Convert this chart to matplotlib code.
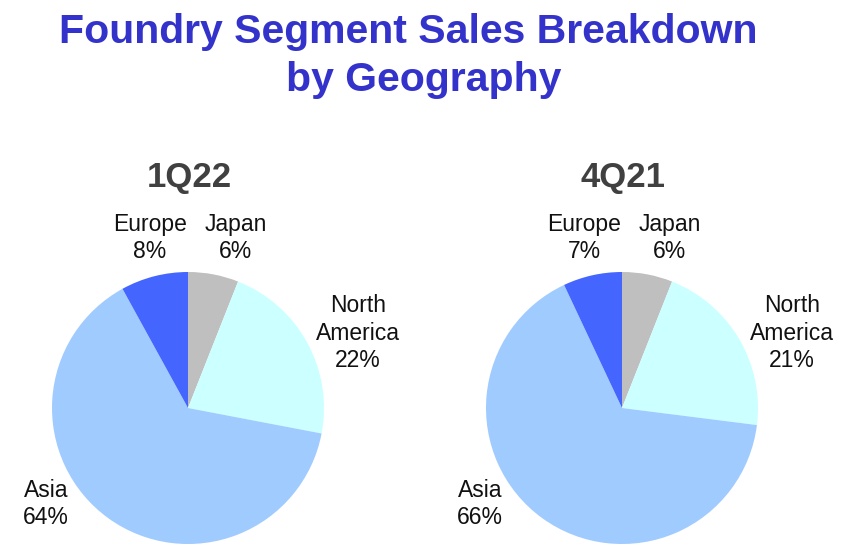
import matplotlib.pyplot as plt

regions = ['Japan', 'North\nAmerica', 'Asia', 'Europe']
q1_22 = [6, 22, 64, 8]
q4_21 = [6, 21, 66, 7]
periods = ['1Q22', '4Q21']
colors = ['#BFBFBF', '#CCFFFF', '#A0CBFF', '#4466FF']

W, H = 865, 560
fig = plt.figure(figsize=(W / 100, H / 100), dpi=100)
plt.rcParams['font.family'] = ['Liberation Sans', 'DejaVu Sans']


def fx(px):
    return px / W


def fy(py):
    return 1 - py / H


fig.text(fx(408), fy(32), 'Foundry Segment Sales Breakdown', ha='center', va='center',
         fontsize=29.5, fontweight='bold', color='#3333CC')
fig.text(fx(424), fy(80), 'by Geography', ha='center', va='center',
         fontsize=29.5, fontweight='bold', color='#3333CC')

# label positions (pixel centres) relative to each pie centre
label_pos = [(48, -170), (170, -75), (-142, 96), (-38, -170)]
centres = [188, 622]
r = 136
cy = 408

for values, period, cx in zip([q1_22, q4_21], periods, centres):
    ax = fig.add_axes([fx(cx - r), fy(cy + r), 2 * r / W, 2 * r / H])
    ax.pie(values, colors=colors, startangle=90, counterclock=False,
           wedgeprops={'linewidth': 0})
    ax.set_xlim(-1, 1)
    ax.set_ylim(-1, 1)
    ax.set_aspect('equal')
    ax.axis('off')
    fig.text(fx(cx + 1), fy(177), period, ha='center', va='center',
             fontsize=25, fontweight='bold', color='#404040')
    for name, v, (dx, dy) in zip(regions, values, label_pos):
        fig.text(fx(cx + dx), fy(cy + dy), '%s\n%d%%' % (name, v), ha='center', va='center',
                 fontsize=16.5, color='#111111', linespacing=1.25)

fig.savefig('out.png', dpi=100)
